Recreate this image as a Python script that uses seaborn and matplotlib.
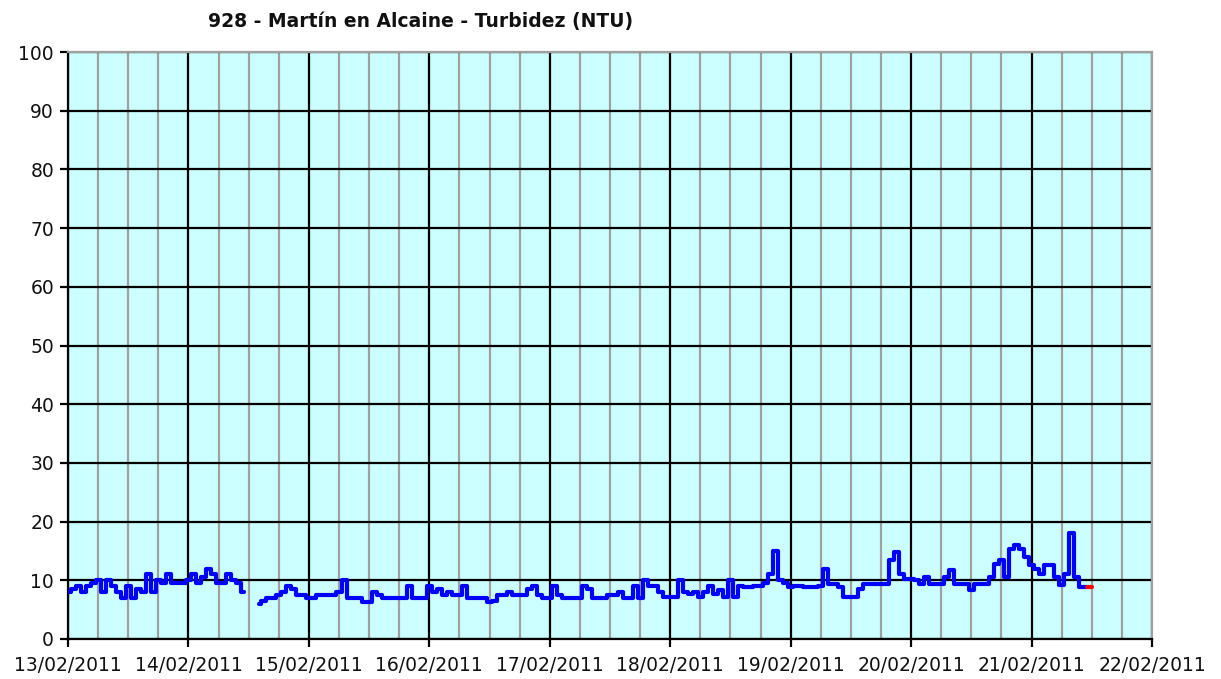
import numpy as np
import pandas as pd
import matplotlib
matplotlib.use("Agg")
import matplotlib.pyplot as plt
import seaborn as sns

title = "928 - Martín en Alcaine - Turbidez (NTU)"
day_labels = ["13/02/2011", "14/02/2011", "15/02/2011", "16/02/2011", "17/02/2011",
              "18/02/2011", "19/02/2011", "20/02/2011", "21/02/2011", "22/02/2011"]
y_ticks = [0, 10, 20, 30, 40, 50, 60, 70, 80, 90, 100]

# hourly turbidity, first block starts 13/02 00:00
seg1_start = 0
seg1_values = [8, 8.5, 9, 8, 9, 9.5, 10, 8, 10, 9, 8, 7, 9, 7, 8.5, 8, 11, 8, 10, 9.5,
               11, 9.5, 9.5, 9.5, 10, 11, 9.5, 10.5, 12, 11, 9.5, 9.5, 11, 10, 9.5, 8]
# second block starts 14/02 14:00
seg2_start = 38
seg2_values = [6, 6.5, 7, 7, 7.5, 8, 9, 8.5, 7.5, 7.5, 7, 7, 7.5, 7.5, 7.5, 7.5, 8, 10, 7, 7,
               7, 6.3, 6.3, 8, 7.5, 7, 7, 7, 7, 7, 9, 7, 7, 7, 9, 8, 8.5, 7.5, 8, 7.5,
               7.5, 9, 7, 7, 7, 7, 6.3, 6.5, 7.5, 7.5, 8, 7.5, 7.5, 7.5, 8.5, 9, 7.5, 7, 7, 9,
               7.5, 7, 7, 7, 7, 9, 8.5, 7, 7, 7, 7.5, 7.5, 8, 7, 7, 9, 7, 10, 9, 9,
               8, 7.2, 7.2, 7.2, 10, 8, 7.7, 8, 7.2, 8, 9, 7.7, 8.3, 7.2, 10, 7.2, 9, 8.8, 8.8, 9,
               9, 9.5, 11, 15, 10, 9.5, 8.8, 9, 9, 8.8, 8.8, 8.8, 9, 12, 9.3, 9.3, 8.8, 7.2, 7.2, 7.2,
               8.6, 9.4, 9.4, 9.4, 9.4, 9.4, 13.4, 14.8, 11, 10.3, 10.3, 10, 9.4, 10.5, 9.4, 9.4, 9.4, 10.5, 11.7, 9.4,
               9.4, 9.4, 8.3, 9.4, 9.4, 9.4, 10.5, 12.8, 13.4, 10.5, 15.4, 16, 15.4, 14, 12.6, 12, 11, 12.6, 12.6, 10.5,
               9.2, 11, 18, 10.5, 8.8, 8.8]
# last (provisional) value shown in red
last_values = [8.8, 8.8]

def block(start, vals, seg):
    h = np.arange(start, start + len(vals))
    return pd.DataFrame({"day": h / 24.0, "ntu": vals, "seg": seg})

df = pd.concat([block(seg1_start, seg1_values, 1), block(seg2_start, seg2_values, 2)],
               ignore_index=True)
red_start = seg2_start + len(seg2_values) - 1
df_red = block(red_start, last_values, 3)

sns.set_theme(style="white")
plt.rcParams["font.family"] = ["DejaVu Sans"]

fig = plt.figure(figsize=(12.21, 6.79), dpi=100)
ax = fig.add_axes([68 / 1221, 1 - 639 / 679, (1152 - 68) / 1221, (639 - 52) / 679])
ax.set_facecolor("#CCFFFF")

sns.lineplot(data=df, x="day", y="ntu", units="seg", estimator=None, color="#0000FF",
             lw=3.0, drawstyle="steps-mid", ax=ax, legend=False, zorder=5)
sns.lineplot(data=df_red, x="day", y="ntu", estimator=None, color="#FF0000",
             lw=3.0, ax=ax, legend=False, zorder=6)

ax.set_xlim(0, len(day_labels) - 1)
ax.set_ylim(0, 100)
ax.set_xticks(np.arange(len(day_labels)))
ax.set_xticklabels(day_labels)
ax.set_xticks(np.arange(0, len(day_labels) - 1, 0.25), minor=True)
ax.set_yticks(y_ticks)
ax.set_yticklabels([str(v) for v in y_ticks])

ax.grid(which="minor", axis="x", color="#A0A0A0", lw=1.6, zorder=1)
ax.grid(which="major", axis="x", color="black", lw=1.6, zorder=2)
ax.grid(which="major", axis="y", color="black", lw=1.6, zorder=2)
ax.set_axisbelow(True)

for s in ["left", "bottom"]:
    ax.spines[s].set_color("black")
    ax.spines[s].set_linewidth(1.6)
for s in ["top", "right"]:
    ax.spines[s].set_color("#A0A0A0")
    ax.spines[s].set_linewidth(1.6)

ax.tick_params(axis="both", which="major", direction="out", length=6, width=1.6,
               color="black", labelsize=13.5, pad=4, bottom=True, left=True,
               labelcolor="#111111")
ax.tick_params(axis="x", which="major", pad=6)
ax.tick_params(axis="x", which="minor", length=0)
ax.set_xlabel("")
ax.set_ylabel("")

fig.text(208 / 1221, 1 - 22 / 679, title, fontsize=13.5, fontweight="bold",
         ha="left", va="center", color="#111111")

fig.savefig("out.png", dpi=100)
